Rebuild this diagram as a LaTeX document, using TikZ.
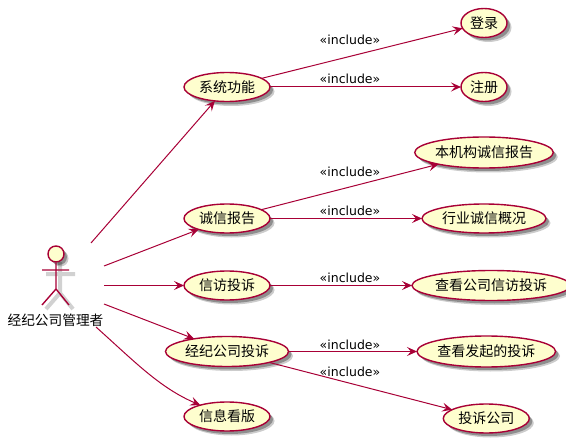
\documentclass[tikz,border=0pt]{standalone}
\usepackage{fontspec}
\setmainfont{Noto Sans CJK SC}
\newfontfamily\labelfont{DejaVu Sans}
\usepackage{xcolor}
\usetikzlibrary{shapes.geometric,arrows.meta,positioning,shadows}
\definecolor{umlfill}{HTML}{FEFECE}
\definecolor{umlline}{HTML}{A80036}

\begin{document}
\begin{tikzpicture}[
    x=1pt, y=1pt,
    node distance=38pt and 150pt,
    softshadow/.style={drop shadow={shadow xshift=4.5pt, shadow yshift=-4.5pt, opacity=0.2, fill=black},
        drop shadow={shadow xshift=3pt, shadow yshift=-3pt, opacity=0.3, fill=black}},
    usecase/.style={ellipse, draw=umlline, fill=umlfill, line width=1.4pt, inner sep=0pt, outer sep=0pt, minimum width=86pt,
        minimum height=29pt, align=center, font=\fontsize{14}{16}\selectfont, softshadow},
    smallcase/.style={usecase, minimum width=46pt},
    include/.style={font=\labelfont\fontsize{12.5}{14}\selectfont, inner sep=0pt, text=black},
    arrow/.style={->, >={Stealth[length=10pt, width=9pt, inset=4pt]}, draw=umlline, line width=1pt}
]
\useasboundingbox (0,0) rectangle (566,-444);

% Actor
\node[circle, draw=umlline, fill=umlfill, line width=1.4pt, minimum size=16pt, inner sep=0pt, softshadow] (head) at (56,-254) {};
\coordinate (hip) at (56,-289);
\coordinate (armleft) at (42,-270);
\coordinate (armright) at (69,-270);
\coordinate (footleft) at (42,-305);
\coordinate (footright) at (69,-305);
\draw[black, opacity=0.18, line width=4pt] (46,-274) -- (75,-274) (60,-262) -- (60,-293) -- (46,-309) (60,-293) -- (73,-309);
\draw[umlline, line width=1.4pt] (head) -- (hip) (armleft) -- (armright) (footleft) -- (hip) -- (footright);
\node[font=\fontsize{13.7}{16}\selectfont, inner sep=0pt] (manager) at (55.5,-320) {经纪公司管理者};

% Free ends at the actor
\coordinate (outa) at (91,-243);
\coordinate (outb) at (104,-266);
\coordinate (outc) at (104,-285.5);
\coordinate (outd) at (104,-304);
\coordinate (oute) at (96,-327);

% Left column
\node[usecase] (system) at (227,-87) {系统功能};
\node[usecase, below=102.5pt of system] (credit) {诚信报告};
\node[usecase, below=of credit] (petition) {信访投诉};
\node[usecase, minimum width=123pt, minimum height=30pt, below=36.5pt of petition] (broker) {经纪公司投诉};
\node[usecase, below=35.5pt of broker] (board) {信息看版};

% Right column
\node[smallcase, right=191pt of system] (register) {注册};
\node[smallcase, above=35pt of register] (login) {登录};
\node[usecase, minimum width=124pt, right=152pt of credit] (industry) {行业诚信概况};
\node[usecase, minimum width=135pt, minimum height=31pt, above=36pt of industry] (report) {本机构诚信报告};
\node[usecase, minimum width=145pt, minimum height=30pt, right=142pt of petition] (viewpetition) {查看公司信访投诉};
\node[usecase, minimum width=134pt, minimum height=31pt, right=128.5pt of broker] (viewsent) {查看发起的投诉};
\node[usecase, below=37pt of viewsent] (complain) {投诉公司};

% Labels
\node[include] (inca) at (350,-40) {«include»};
\node[include] (incb) at (350,-79) {«include»};
\node[include] (incc) at (350,-172) {«include»};
\node[include] (incd) at (350,-211) {«include»};
\node[include] (ince) at (350,-278) {«include»};
\node[include] (incf) at (350,-345) {«include»};
\node[include] (incg) at (350,-371.5) {«include»};

% Arrows
\draw[arrow] (outa) -- (system);
\draw[arrow] (outb) -- (credit);
\draw[arrow] (outc) -- (petition);
\draw[arrow] (outd) -- (broker);
\draw[arrow] (oute) .. controls (135,-362) and (160,-388) .. (board);
\draw[arrow] (system) -- (login);
\draw[arrow] (system) -- (register);
\draw[arrow] (credit) -- (report);
\draw[arrow] (credit) -- (industry);
\draw[arrow] (petition) -- (viewpetition);
\draw[arrow] (broker) -- (viewsent);
\draw[arrow] (broker) -- (complain);

\end{tikzpicture}
\end{document}
